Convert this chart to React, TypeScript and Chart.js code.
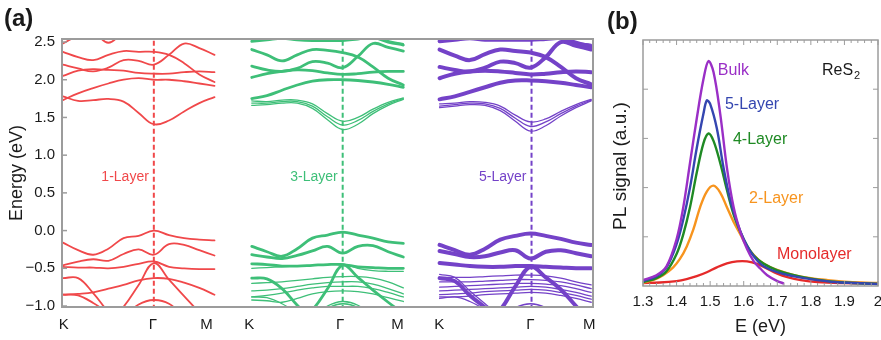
import React, { useEffect, useRef } from 'react';
import { Chart, registerables } from 'chart.js';
Chart.register(...registerables);

const FONT = "'Liberation Sans', Arial, Helvetica, sans-serif";

// ---------- Panel (a): band structures ----------
const kGrid = [0, 0.167, 0.333, 0.5, 0.667, 0.833, 1, 1.167, 1.333, 1.5, 1.667];
const panelOffsets = [0, 2.077, 4.143];
const gammaPoints = [1, 3.077, 5.154];
const layerNames = ['1-Layer', '3-Layer', '5-Layer'];
const kTickPositions = [0.01, 0.99, 1.58, 2.05, 3.05, 3.68, 4.14, 5.14, 5.79];
const kTickLabels = ['K', 'Γ', 'M', 'K', 'Γ', 'M', 'K', 'Γ', 'M'];
const energyTicks = [-1, -0.5, 0, 0.5, 1, 1.5, 2, 2.5];
const energyTickLabels = ['−1.0', '−0.5', '0.0', '0.5', '1.0', '1.5', '2.0', '2.5'];

const bands1L: number[][] = [
  [1.78, 1.72, 1.73, 1.745, 1.71, 1.56, 1.41, 1.46, 1.58, 1.69, 1.77],
  [1.73, 1.82, 1.89, 1.95, 2.0, 2.02, 2.0, 2.0, 1.98, 1.95, 1.92],
  [2.05, 2.12, 2.14, 2.13, 2.12, 2.09, 2.08, 2.08, 2.1, 2.11, 2.1],
  [2.2, 2.15, 2.11, 2.16, 2.26, 2.25, 2.2, 2.33, 2.48, 2.42, 2.33],
  [2.37, 2.3, 2.26, 2.33, 2.38, 2.37, 2.37, 2.33, 2.22, 2.07, 1.97],
  [2.48, 2.58, 2.62, 2.49, 2.62, 2.65, 2.65, 2.65, 2.65, 2.65, 2.65],
  [-0.16, -0.26, -0.32, -0.24, -0.1, -0.07, 0.0, -0.06, -0.1, -0.12, -0.13],
  [-0.46, -0.41, -0.38, -0.4, -0.31, -0.25, -0.32, -0.18, -0.19, -0.26, -0.33],
  [-0.48, -0.49, -0.49, -0.5, -0.48, -0.44, -0.41, -0.48, -0.5, -0.51, -0.51],
  [-0.63, -0.63, -0.83, -1.08, -1.3, -1.4, -1.4, -1.4, -1.4, -1.4, -1.4],
  [-0.85, -0.84, -0.82, -0.77, -0.72, -0.66, -0.63, -0.64, -0.69, -0.76, -0.85],
  [-0.85, -0.86, -0.96, -1.1, -1.3, -1.4, -1.4, -1.4, -1.4, -1.4, -1.4],
  [-1.5, -1.45, -1.35, -1.22, -1.01, -0.72, -0.43, -0.65, -0.87, -1.08, -1.25],
  [-1.4, -1.4, -1.4, -1.35, -1.15, -0.98, -0.92, -0.97, -1.15, -1.4, -1.4],
];

const bundles3L: number[][] = [
  [1.75, 1.79, 1.86, 1.93, 1.98, 2.0, 2.0, 1.99, 1.97, 1.94, 1.9],
  [2.03, 2.08, 2.11, 2.13, 2.12, 2.09, 2.07, 2.08, 2.1, 2.11, 2.11],
  [2.18, 2.13, 2.11, 2.15, 2.24, 2.22, 2.16, 2.31, 2.48, 2.43, 2.38],
  [2.4, 2.33, 2.25, 2.33, 2.4, 2.39, 2.36, 2.3, 2.17, 2.02, 1.93],
  [2.51, 2.53, 2.55, 2.53, 2.52, 2.52, 2.52, 2.54, 2.56, 2.5, 2.46],
  [-0.21, -0.28, -0.34, -0.24, -0.1, -0.06, -0.02, -0.06, -0.1, -0.15, -0.17],
  [-0.32, -0.35, -0.37, -0.33, -0.27, -0.21, -0.3, -0.21, -0.2, -0.28, -0.35],
  [-0.44, -0.45, -0.47, -0.47, -0.46, -0.45, -0.45, -0.48, -0.49, -0.5, -0.5],
  [-0.63, -0.64, -0.77, -0.99, -1.2, -1.4, -1.4, -1.4, -1.4, -1.4, -1.4],
  [-1.5, -1.45, -1.35, -1.2, -1.05, -0.77, -0.46, -0.62, -0.79, -0.95, -1.1],
];
const lines3L: number[][] = [
  [1.66, 1.67, 1.69, 1.69, 1.62, 1.47, 1.34, 1.41, 1.55, 1.66, 1.74],
  [1.69, 1.69, 1.71, 1.71, 1.65, 1.51, 1.4, 1.46, 1.58, 1.68, 1.75],
  [1.72, 1.71, 1.73, 1.73, 1.68, 1.55, 1.45, 1.5, 1.61, 1.7, 1.76],
  [2.65, 2.65, 2.65, 2.65, 2.65, 2.65, 2.65, 2.64, 2.6, 2.52, 2.48],
  [-0.5, -0.49, -0.48, -0.47, -0.46, -0.45, -0.44, -0.5, -0.53, -0.54, -0.54],
  [-0.7, -0.69, -0.68, -0.66, -0.64, -0.62, -0.61, -0.61, -0.63, -0.68, -0.76],
  [-0.8, -0.79, -0.77, -0.74, -0.71, -0.69, -0.68, -0.68, -0.71, -0.77, -0.84],
  [-0.88, -0.86, -0.83, -0.79, -0.76, -0.74, -0.74, -0.74, -0.77, -0.82, -0.88],
  [-0.92, -0.93, -0.95, -0.9, -0.84, -0.81, -0.8, -0.81, -0.84, -0.89, -0.94],
  [-0.88, -0.89, -0.97, -1.1, -1.3, -1.4, -1.4, -1.4, -1.4, -1.4, -1.4],
  [-1.4, -1.4, -1.4, -1.3, -1.15, -1.0, -0.94, -0.99, -1.15, -1.4, -1.4],
  [-1.4, -1.4, -1.4, -1.32, -1.18, -1.03, -0.97, -1.02, -1.18, -1.4, -1.4],
];

const bundles5L: number[][] = [
  [1.74, 1.78, 1.84, 1.9, 1.96, 1.99, 1.99, 1.98, 1.96, 1.93, 1.9],
  [2.02, 2.08, 2.11, 2.12, 2.11, 2.09, 2.07, 2.08, 2.1, 2.11, 2.1],
  [2.17, 2.13, 2.11, 2.16, 2.24, 2.22, 2.16, 2.3, 2.5, 2.45, 2.4],
  [2.4, 2.32, 2.26, 2.34, 2.4, 2.38, 2.36, 2.3, 2.17, 2.02, 1.94],
  [2.51, 2.53, 2.55, 2.53, 2.53, 2.53, 2.53, 2.54, 2.55, 2.49, 2.44],
  [-0.19, -0.26, -0.32, -0.24, -0.12, -0.07, -0.04, -0.07, -0.11, -0.16, -0.19],
  [-0.27, -0.31, -0.35, -0.34, -0.29, -0.26, -0.37, -0.28, -0.26, -0.3, -0.34],
  [-0.43, -0.45, -0.47, -0.48, -0.48, -0.47, -0.47, -0.48, -0.49, -0.5, -0.5],
  [-0.63, -0.67, -0.86, -1.02, -1.2, -1.4, -1.4, -1.4, -1.4, -1.4, -1.4],
  [-1.5, -1.45, -1.35, -1.2, -1.05, -0.74, -0.48, -0.62, -0.78, -1.0, -1.2],
];
const lines5L: number[][] = [
  [1.63, 1.65, 1.67, 1.66, 1.59, 1.45, 1.32, 1.39, 1.52, 1.63, 1.72],
  [1.65, 1.67, 1.69, 1.68, 1.62, 1.49, 1.38, 1.44, 1.55, 1.65, 1.73],
  [1.68, 1.69, 1.71, 1.7, 1.65, 1.53, 1.44, 1.48, 1.58, 1.67, 1.74],
  [2.65, 2.65, 2.65, 2.65, 2.65, 2.65, 2.65, 2.64, 2.58, 2.5, 2.47],
  [-0.58, -0.62, -0.8, -0.97, -1.15, -1.4, -1.4, -1.4, -1.4, -1.4, -1.4],
  [-0.62, -0.62, -0.62, -0.61, -0.6, -0.59, -0.59, -0.6, -0.63, -0.68, -0.72],
  [-0.68, -0.68, -0.68, -0.67, -0.66, -0.65, -0.65, -0.66, -0.68, -0.72, -0.77],
  [-0.75, -0.74, -0.73, -0.72, -0.71, -0.7, -0.7, -0.71, -0.73, -0.77, -0.82],
  [-0.8, -0.79, -0.78, -0.77, -0.76, -0.75, -0.74, -0.75, -0.78, -0.82, -0.87],
  [-0.85, -0.84, -0.83, -0.81, -0.8, -0.79, -0.78, -0.79, -0.82, -0.86, -0.91],
  [-0.88, -0.88, -0.87, -0.85, -0.84, -0.83, -0.82, -0.83, -0.86, -0.9, -0.95],
  [-0.9, -0.88, -0.94, -1.05, -1.2, -1.4, -1.4, -1.4, -1.4, -1.4, -1.4],
  [-1.4, -1.4, -1.4, -1.3, -1.15, -1.02, -0.97, -1.02, -1.15, -1.4, -1.4],
];

// ---------- Panel (b): PL spectra ----------
const bulkEnergy = [1.3, 1.34, 1.37, 1.4, 1.42, 1.44, 1.46, 1.48, 1.495, 1.51, 1.53, 1.55, 1.57, 1.59, 1.61, 1.63, 1.65, 1.67, 1.7, 1.72];
const bulkSignal = [0.12, 0.22, 0.4, 0.95, 1.6, 2.5, 3.4, 4.2, 4.57, 4.35, 3.5, 2.4, 1.6, 1.1, 0.75, 0.5, 0.35, 0.22, 0.1, 0.05];
const l5Energy = [1.3, 1.34, 1.37, 1.4, 1.42, 1.44, 1.46, 1.48, 1.49, 1.5, 1.52, 1.54, 1.56, 1.58, 1.6, 1.62, 1.65, 1.68, 1.72, 1.77, 1.82, 1.87, 1.93, 2.0];
const l5Signal = [0.1, 0.2, 0.38, 0.85, 1.35, 2.0, 2.8, 3.5, 3.77, 3.7, 3.2, 2.4, 1.75, 1.3, 0.95, 0.7, 0.45, 0.33, 0.24, 0.17, 0.12, 0.08, 0.06, 0.04];
const l4Energy = [1.3, 1.34, 1.37, 1.4, 1.42, 1.44, 1.46, 1.48, 1.495, 1.51, 1.53, 1.55, 1.57, 1.59, 1.61, 1.63, 1.66, 1.7, 1.75, 1.8, 1.85, 1.9, 2.0];
const l4Signal = [0.08, 0.16, 0.3, 0.65, 1.05, 1.6, 2.3, 2.9, 3.1, 2.95, 2.5, 1.95, 1.45, 1.1, 0.82, 0.62, 0.45, 0.32, 0.22, 0.15, 0.1, 0.07, 0.04];
const l2Energy = [1.3, 1.33, 1.36, 1.39, 1.41, 1.43, 1.45, 1.47, 1.49, 1.51, 1.53, 1.55, 1.57, 1.59, 1.61, 1.63, 1.65, 1.68, 1.71, 1.75, 1.8, 1.85, 1.9, 1.95, 2.0];
const l2Signal = [0.07, 0.12, 0.22, 0.38, 0.55, 0.8, 1.15, 1.6, 1.92, 2.04, 1.9, 1.6, 1.3, 1.05, 0.8, 0.63, 0.5, 0.38, 0.3, 0.22, 0.16, 0.12, 0.09, 0.07, 0.06];
const monoEnergy = [1.3, 1.35, 1.4, 1.43, 1.46, 1.49, 1.52, 1.55, 1.58, 1.61, 1.64, 1.67, 1.7, 1.73, 1.77, 1.82, 1.9, 2.0];
const monoSignal = [0.06, 0.07, 0.1, 0.14, 0.2, 0.28, 0.38, 0.46, 0.5, 0.5, 0.45, 0.35, 0.25, 0.18, 0.12, 0.08, 0.06, 0.05];
const plSeriesNames = ['Bulk', '5-Layer', '4-Layer', '2-Layer', 'Monolayer'];
const plTickValues = [1.3, 1.4, 1.5, 1.6, 1.7, 1.8, 1.9, 2.0];
const plTickLabels = ['1.3', '1.4', '1.5', '1.6', '1.7', '1.8', '1.9', '2'];
const plYTicks = [1, 2, 3, 4];

const LAYER_COLORS = ['#F0484A', '#3EBF78', '#7442C8'];
const PL_COLORS = ['#9A2FC6', '#3446B0', '#1F8A24', '#F7941E', '#E52A2A'];
const FRAME = '#9c9c9c';
const TEXT = '#1a1a1a';

function bandDataset(values: number[], offset: number, color: string, width: number) {
  return {
    data: kGrid.map((k, i) => ({ x: offset + k, y: values[i] })),
    borderColor: color,
    backgroundColor: color,
    borderWidth: width,
    showLine: true,
    pointRadius: 0,
    tension: 0.4,
    fill: false,
    borderCapStyle: 'round',
  };
}

function pairs(xs: number[], ys: number[]) {
  return xs.map((x, i) => ({ x, y: ys[i] }));
}

const panelAPlugin = {
  id: 'panelA',
  afterDraw(chart: any) {
    const { ctx, chartArea: a, scales } = chart;
    const xs = scales.x, ys = scales.y;
    ctx.save();
    ctx.strokeStyle = FRAME;
    ctx.lineWidth = 2;
    ctx.strokeRect(a.left, a.top, a.right - a.left, a.bottom - a.top);
    ctx.lineWidth = 1.5;
    energyTicks.forEach((v) => {
      const y = ys.getPixelForValue(v);
      ctx.beginPath();
      ctx.moveTo(a.left, y);
      ctx.lineTo(a.left + 5, y);
      ctx.stroke();
    });
    ctx.font = `14px ${FONT}`;
    ctx.textAlign = 'right';
    ctx.textBaseline = 'middle';
    layerNames.forEach((name, i) => {
      ctx.fillStyle = LAYER_COLORS[i];
      ctx.fillText(name, xs.getPixelForValue(gammaPoints[i]) - 5, ys.getPixelForValue(0.71));
    });
    ctx.fillStyle = TEXT;
    ctx.save();
    ctx.translate(17, 173);
    ctx.rotate(-Math.PI / 2);
    ctx.textAlign = 'center';
    ctx.font = `18px ${FONT}`;
    ctx.fillText('Energy (eV)', 0, 0);
    ctx.restore();
    ctx.font = `bold 24px ${FONT}`;
    ctx.textAlign = 'left';
    ctx.fillText('(a)', 4, 19);
    ctx.restore();
  },
};

const panelBPlugin = {
  id: 'panelB',
  afterDraw(chart: any) {
    const { ctx, chartArea: a, scales } = chart;
    const xs = scales.x, ys = scales.y;
    ctx.save();
    ctx.strokeStyle = FRAME;
    ctx.lineWidth = 1.5;
    ctx.strokeRect(a.left, a.top, a.right - a.left, a.bottom - a.top);
    ctx.lineWidth = 1;
    for (let i = 0; i <= 35; i++) {
      const x = xs.getPixelForValue(1.3 + i * 0.02);
      const len = i % 5 === 0 ? 5 : 3;
      ctx.beginPath();
      ctx.moveTo(x, a.top); ctx.lineTo(x, a.top + len);
      ctx.moveTo(x, a.bottom); ctx.lineTo(x, a.bottom - len);
      ctx.stroke();
    }
    plYTicks.forEach((v) => {
      const y = ys.getPixelForValue(v);
      ctx.beginPath();
      ctx.moveTo(a.left, y); ctx.lineTo(a.left + 5, y);
      ctx.moveTo(a.right, y); ctx.lineTo(a.right - 5, y);
      ctx.stroke();
    });
    ctx.textBaseline = 'middle';
    ctx.textAlign = 'left';
    ctx.font = `16px ${FONT}`;
    const labelPos = [[1.523, 4.37], [1.544, 3.68], [1.568, 2.98], [1.616, 1.78], [1.699, 0.63]];
    plSeriesNames.forEach((n, i) => {
      ctx.fillStyle = PL_COLORS[i];
      ctx.fillText(n, xs.getPixelForValue(labelPos[i][0]), ys.getPixelForValue(labelPos[i][1]));
    });
    ctx.fillStyle = TEXT;
    const rx = xs.getPixelForValue(1.833), ry = ys.getPixelForValue(4.37);
    ctx.fillText('ReS', rx, ry);
    const w = ctx.measureText('ReS').width;
    ctx.font = `11px ${FONT}`;
    ctx.fillText('2', rx + w + 1, ry + 5);
    ctx.save();
    ctx.translate(16, 166);
    ctx.rotate(-Math.PI / 2);
    ctx.textAlign = 'center';
    ctx.font = `19px ${FONT}`;
    ctx.fillText('PL signal (a.u.)', 0, 0);
    ctx.restore();
    ctx.textAlign = 'center';
    ctx.font = `18px ${FONT}`;
    ctx.fillText('E (eV)', (a.left + a.right) / 2, 327);
    ctx.font = `bold 24px ${FONT}`;
    ctx.textAlign = 'left';
    ctx.fillText('(b)', 2, 22);
    ctx.restore();
  },
};

export default function App() {
  const refA = useRef<HTMLCanvasElement>(null);
  const refB = useRef<HTMLCanvasElement>(null);

  useEffect(() => {
    const datasetsA: any[] = [];
    gammaPoints.forEach((g, i) => {
      datasetsA.push({
        data: [{ x: g, y: -1.05 }, { x: g, y: 2.6 }],
        borderColor: LAYER_COLORS[i],
        borderWidth: 2,
        borderDash: [5, 3],
        showLine: true,
        pointRadius: 0,
        fill: false,
      });
    });
    bands1L.forEach((b) => datasetsA.push(bandDataset(b, panelOffsets[0], LAYER_COLORS[0], 1.8)));
    lines3L.forEach((b) => datasetsA.push(bandDataset(b, panelOffsets[1], LAYER_COLORS[1], 1.3)));
    bundles3L.forEach((b) => datasetsA.push(bandDataset(b, panelOffsets[1], LAYER_COLORS[1], 2.8)));
    lines5L.forEach((b) => datasetsA.push(bandDataset(b, panelOffsets[2], LAYER_COLORS[2], 1.3)));
    bundles5L.forEach((b) => datasetsA.push(bandDataset(b, panelOffsets[2], LAYER_COLORS[2], 4)));

    const chartA = new Chart(refA.current!, {
      type: 'scatter',
      data: { datasets: datasetsA },
      options: {
        animation: false,
        responsive: false,
        devicePixelRatio: 1,
        layout: { padding: { top: 39, right: 12, left: 0, bottom: 0 } },
        plugins: { legend: { display: false }, tooltip: { enabled: false } },
        scales: {
          x: {
            type: 'linear', min: -0.01, max: 5.83,
            grid: { display: false, drawTicks: false },
            border: { display: false },
            afterBuildTicks: (s: any) => { s.ticks = kTickPositions.map((v) => ({ value: v })); },
            afterFit: (s: any) => { s.height = 33; },
            ticks: {
              autoSkip: false, maxRotation: 0, padding: 9,
              color: TEXT, font: { family: FONT, size: 15 },
              callback: (_v: any, i: number) => kTickLabels[i],
            },
          },
          y: {
            type: 'linear', min: -1.013, max: 2.54,
            grid: { display: false, drawTicks: false },
            border: { display: false },
            afterBuildTicks: (s: any) => { s.ticks = energyTicks.map((v) => ({ value: v })); },
            afterFit: (s: any) => { s.width = 62; },
            ticks: {
              autoSkip: false, padding: 7,
              color: TEXT, font: { family: FONT, size: 15 },
              callback: (_v: any, i: number) => energyTickLabels[i],
            },
          },
        },
      },
      plugins: [panelAPlugin],
    } as any);

    const plSets = [
      pairs(bulkEnergy, bulkSignal),
      pairs(l5Energy, l5Signal),
      pairs(l4Energy, l4Signal),
      pairs(l2Energy, l2Signal),
      pairs(monoEnergy, monoSignal),
    ];
    const chartB = new Chart(refB.current!, {
      type: 'scatter',
      data: {
        datasets: plSets.map((d, i) => ({
          label: plSeriesNames[i],
          data: d,
          borderColor: PL_COLORS[i],
          backgroundColor: PL_COLORS[i],
          borderWidth: 2.4,
          showLine: true,
          pointRadius: 0,
          tension: 0.35,
          fill: false,
        })),
      },
      options: {
        animation: false,
        responsive: false,
        devicePixelRatio: 1,
        layout: { padding: { top: 40, right: 17, left: 0, bottom: 0 } },
        plugins: { legend: { display: false }, tooltip: { enabled: false } },
        scales: {
          x: {
            type: 'linear', min: 1.3, max: 2.0,
            grid: { display: false, drawTicks: false },
            border: { display: false },
            afterBuildTicks: (s: any) => { s.ticks = plTickValues.map((v) => ({ value: v })); },
            afterFit: (s: any) => { s.height = 54; },
            ticks: {
              autoSkip: false, maxRotation: 0, padding: 7,
              color: TEXT, font: { family: FONT, size: 15 },
              callback: (_v: any, i: number) => plTickLabels[i],
            },
          },
          y: {
            type: 'linear', min: 0, max: 5,
            grid: { display: false, drawTicks: false },
            border: { display: false },
            ticks: { display: false },
            afterFit: (s: any) => { s.width = 38; },
          },
        },
      },
      plugins: [panelBPlugin],
    } as any);

    return () => { chartA.destroy(); chartB.destroy(); };
  }, []);

  return (
    <div style={{ position: 'absolute', left: 0, top: 0, width: 881, height: 340, overflow: 'hidden', background: '#fff' }}>
      <canvas ref={refA} width={605} height={340} style={{ position: 'absolute', left: 0, top: 0 }} />
      <canvas ref={refB} width={290} height={340} style={{ position: 'absolute', left: 605, top: 0 }} />
    </div>
  );
}
